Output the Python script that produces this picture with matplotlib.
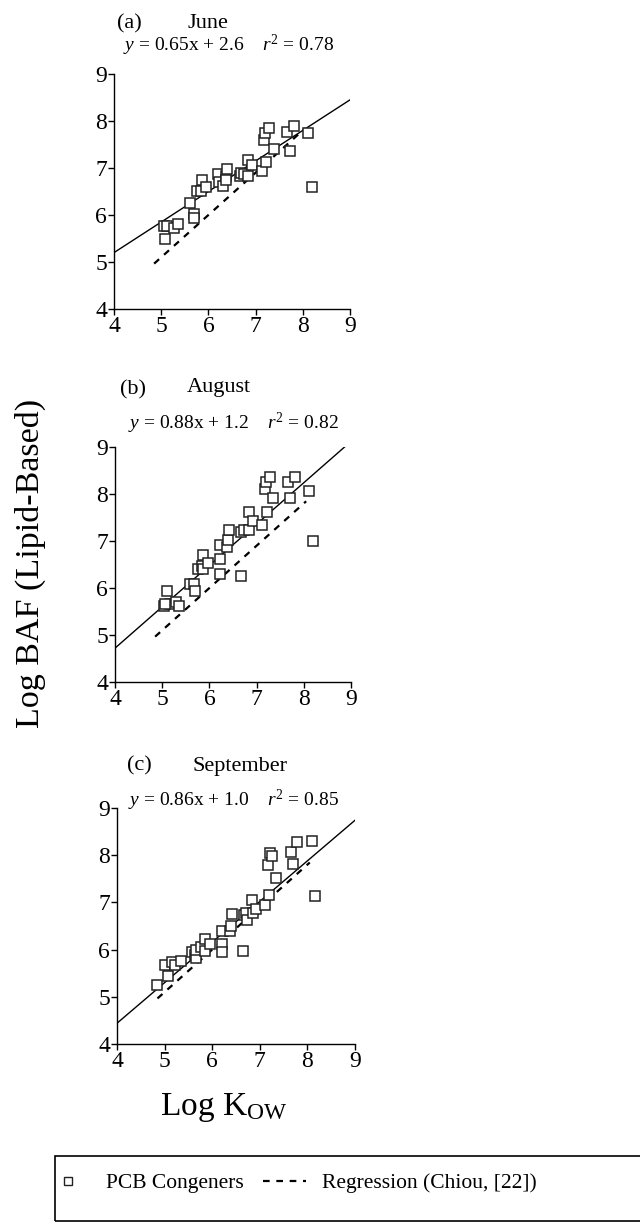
import matplotlib
matplotlib.use("Agg")
import matplotlib.pyplot as plt
import numpy as np
from matplotlib.lines import Line2D
from matplotlib.patches import Rectangle

W, H = 640, 1228

# --- data ---
june_x = [5.05, 5.13, 5.09, 5.27, 5.36, 5.60, 5.69, 5.69, 5.75, 5.86, 5.84, 5.95,
          6.21, 6.23, 6.30, 6.37, 6.37, 6.40, 6.66, 6.69, 6.75, 6.83, 6.84, 6.93,
          7.13, 7.18, 7.20, 7.29, 7.22, 7.38, 7.66, 7.72, 7.81, 8.10, 8.19]
june_y = [5.76, 5.76, 5.48, 5.72, 5.80, 6.26, 6.03, 5.94, 6.52, 6.74, 6.51, 6.59,
          6.87, 6.70, 6.62, 6.82, 6.75, 6.98, 6.82, 6.89, 6.88, 7.16, 6.84, 7.06,
          6.94, 7.59, 7.75, 7.85, 7.13, 7.40, 7.77, 7.37, 7.89, 7.75, 6.60]

aug_x = [5.04, 5.10, 5.17, 5.29, 5.36, 5.06, 5.58, 5.68, 5.69, 5.75, 5.84, 5.86,
         5.87, 5.98, 6.23, 6.23, 6.23, 6.37, 6.39, 6.42, 6.66, 6.68, 6.73, 6.83,
         6.83, 6.93, 7.11, 7.21, 7.18, 7.20, 7.28, 7.35, 7.66, 7.81, 7.71, 8.10, 8.19]
aug_y = [5.62, 5.94, 5.67, 5.70, 5.61, 5.65, 6.09, 6.08, 5.94, 6.41, 6.46, 6.70,
         6.41, 6.53, 6.62, 6.92, 6.30, 6.87, 7.03, 7.23, 6.26, 7.19, 7.23, 7.62,
         7.23, 7.43, 7.35, 7.62, 8.10, 8.25, 8.36, 7.92, 8.25, 8.36, 7.91, 8.07, 7.00]

sep_x = [4.85, 5.01, 5.08, 5.15, 5.22, 5.34, 5.58, 5.63, 5.66, 5.67, 5.77, 5.84,
         5.85, 5.96, 6.20, 6.20, 6.21, 6.37, 6.39, 6.42, 6.65, 6.66, 6.70, 6.74,
         6.83, 6.86, 6.92, 7.10, 7.19, 7.35, 7.17, 7.21, 7.26, 7.65, 7.79, 7.70,
         8.09, 8.15]
sep_y = [5.25, 5.68, 5.45, 5.73, 5.68, 5.75, 5.95, 5.89, 5.82, 6.00, 6.06, 5.96,
         6.23, 6.11, 6.12, 5.94, 6.40, 6.39, 6.50, 6.76, 5.96, 6.74, 6.78, 6.62,
         7.06, 6.78, 6.85, 6.95, 7.16, 7.51, 7.79, 8.04, 7.99, 8.06, 8.27, 7.82,
         8.30, 7.13]

tags = ["(a)", "(b)", "(c)"]
months = ["June", "August", "September"]
slopes = [0.65, 0.88, 0.86]
intercepts = [2.6, 1.2, 1.0]
r_squared = ["0.78", "0.82", "0.85"]

# Chiou regression (dashed), same in every panel
chiou_slope = 0.90
chiou_intercept = 0.60
chiou_x = [4.85, 8.05]

ticks = [4, 5, 6, 7, 8, 9]

plt.rcParams["font.family"] = ["Liberation Serif", "DejaVu Serif"]
plt.rcParams["mathtext.fontset"] = "custom"
plt.rcParams["mathtext.rm"] = "Liberation Serif"
plt.rcParams["mathtext.it"] = "Liberation Serif:italic"


def px_axes(fig, x0, x1, ytop, ybot):
    return fig.add_axes([x0 / W, 1 - ybot / H, (x1 - x0) / W, (ybot - ytop) / H])


def fx(x):
    return x / W


def fy(y):
    return 1 - y / H


fig = plt.figure(figsize=(W / 100, H / 100), dpi=100)

panels = [
    (june_x, june_y, (114, 350, 74, 309)),
    (aug_x, aug_y, (115, 351, 447, 682)),
    (sep_x, sep_y, (117, 355, 808, 1044)),
]
text_pos = [
    ((117, 24), (188, 24), (123, 45)),
    ((120, 390), (187, 388), (128, 423)),
    ((127, 766), (192, 766), (128, 800)),
]

for i, (xs, ys, box) in enumerate(panels):
    ax = px_axes(fig, *box)
    ax.plot(xs, ys, linestyle="none", marker="s", markersize=7.2,
            markerfacecolor="white", markeredgecolor="#222222",
            markeredgewidth=1.1, zorder=3)
    xl = np.array([4.0, 9.0])
    ax.plot(xl, slopes[i] * xl + intercepts[i], color="black", lw=1.0)
    cx = np.array(chiou_x)
    ax.plot(cx, chiou_slope * cx + chiou_intercept, color="black", lw=1.6,
            linestyle=(0, (3, 3)))
    ax.set_xlim(4, 9)
    ax.set_ylim(4, 9)
    ax.set_xticks(ticks)
    ax.set_yticks(ticks)
    for s in ["top", "right"]:
        ax.spines[s].set_visible(False)
    for s in ["left", "bottom"]:
        ax.spines[s].set_linewidth(1.0)
    ax.tick_params(labelsize=17, length=4, width=1.0, pad=1)

    tag_p, month_p, eq_p = text_pos[i]
    fig.text(fx(tag_p[0]), fy(tag_p[1]), tags[i], fontsize=16, ha="left", va="center")
    fig.text(fx(month_p[0]), fy(month_p[1]), months[i], fontsize=16, ha="left", va="center")
    eq = r"$y$ = %.2fx + %.1f    $r^2$ = %s" % (slopes[i], intercepts[i], r_squared[i])
    fig.text(fx(eq_p[0]), fy(eq_p[1]), eq, fontsize=14, ha="left", va="center")

fig.text(fx(30), fy(563), "Log BAF (Lipid-Based)", fontsize=24.5, rotation=90,
         ha="center", va="center")
fig.text(fx(160), fy(1108), r"Log K$_{\mathrm{OW}}$", fontsize=24, ha="left", va="center")

# legend box
fig.patches.append(Rectangle((fx(55), fy(1221)), (700 - 55) / W, 65 / H,
                             transform=fig.transFigure, fill=False,
                             edgecolor="black", lw=1.2))
handles = [
    Line2D([], [], linestyle="none", marker="s", markersize=6,
           markerfacecolor="white", markeredgecolor="#222222", markeredgewidth=1.0),
    Line2D([], [], color="black", lw=1.6, linestyle=(0, (3, 3))),
]
fig.legend(handles, ["PCB Congeners", "Regression (Chiou, [22])"], ncol=2,
           loc="center left", bbox_to_anchor=(fx(27), fy(1183)), frameon=False,
           fontsize=15.5, handlelength=2.0, handletextpad=0.75, columnspacing=0.9)

fig.savefig("out.png", dpi=100)
